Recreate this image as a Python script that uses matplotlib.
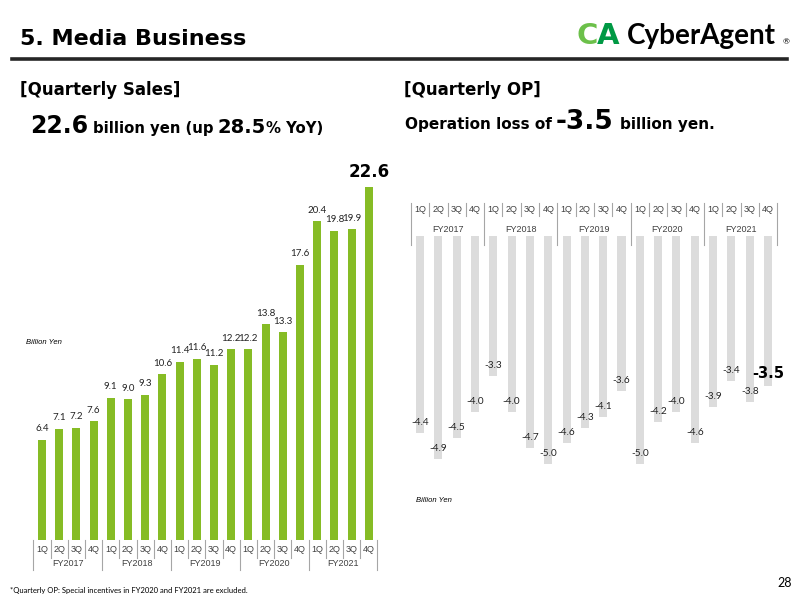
import matplotlib
matplotlib.use('Agg')
import matplotlib.pyplot as plt
from matplotlib.transforms import blended_transform_factory
from matplotlib.patches import Rectangle

# --- datos ---
years = ['FY2017', 'FY2018', 'FY2019', 'FY2020', 'FY2021']
quarters = ['1Q', '2Q', '3Q', '4Q']
sales = [6.4, 7.1, 7.2, 7.6, 9.1, 9.0, 9.3, 10.6, 11.4, 11.6, 11.2, 12.2,
         12.2, 13.8, 13.3, 17.6, 20.4, 19.8, 19.9, 22.6]
op = [-4.4, -4.9, -4.5, -4.0, -3.3, -4.0, -4.7, -5.0, -4.6, -4.3, -4.1, -3.6,
      -5.0, -4.2, -4.0, -4.6, -3.9, -3.4, -3.8, -3.5]

GREEN = '#86bc25'
GRAY = '#dcdcdc'
HEAD = 'DejaVu Sans'
plt.rcParams['font.family'] = ['Lato', 'DejaVu Sans']

fig = plt.figure(figsize=(8, 6), dpi=100)
W, H = 800, 600


def fx(px):
    return px / W


def fy(py):
    return 1 - py / H


def rich_text(x, y, parts, family=HEAD, weight='bold'):
    """parts: (texto, tamaño, espacio_px_despues, color)"""
    r = fig.canvas.get_renderer()
    for s, size, gap, col in parts:
        t = fig.text(fx(x), fy(y), s, fontsize=size, fontweight=weight, va='baseline',
                     color=col, family=family)
        x += t.get_window_extent(renderer=r).width + gap


def draw_table(ax, top, q_bottom, y_bottom, q_y, fy_y):
    tr = blended_transform_factory(ax.transData, fig.transFigure)
    for k in range(len(sales) + 1):
        bottom = y_bottom if k % 4 == 0 else q_bottom
        ax.plot([k - 0.5, k - 0.5], [fy(top), fy(bottom)], color='#a6a6a6', lw=0.8,
                transform=tr, clip_on=False, zorder=5)
    for i in range(len(sales)):
        ax.text(i, fy(q_y), quarters[i % 4], transform=tr, ha='center', va='center',
                fontsize=6.5, color='#404040', zorder=5, family='Liberation Sans')
    for j, yr in enumerate(years):
        ax.text(4 * j + 1.5, fy(fy_y), yr, transform=tr, ha='center', va='center',
                fontsize=6.5, color='#404040', zorder=5, family='Liberation Sans')


# --- encabezado ---
fig.text(fx(20), fy(45), '5. Media Business', fontsize=16, fontweight='bold', va='baseline',
         family=HEAD)
fig.add_artist(plt.Line2D([fx(12), fx(787)], [fy(59), fy(59)], color='#262626', lw=2.6))
rich_text(577, 44, [('C', 21, -2, '#6cc04a'), ('A', 21, 6, '#009944')], weight='heavy')
fig.text(fx(627), fy(44), 'CyberAgent', fontsize=20, fontweight='bold', va='baseline')
fig.text(fx(783), fy(44), '®', fontsize=6, va='baseline')

fig.text(fx(20), fy(95), '[Quarterly Sales]', fontsize=12, fontweight='bold', va='baseline',
         family=HEAD)
rich_text(30, 133, [('22.6', 17, 5, 'black'), ('billion yen (up', 10.7, 4, 'black'),
                    ('28.5', 14, 0, 'black'), ('% YoY)', 10.7, 0, 'black')])
fig.text(fx(404), fy(95), '[Quarterly OP]', fontsize=12, fontweight='bold', va='baseline',
         family=HEAD)
rich_text(405, 129, [('Operation loss of', 11, 4, 'black'), ('-3.5', 19, 6, 'black'),
                     ('billion yen.', 11, 0, 'black')])

# --- ventas trimestrales ---
ax1 = fig.add_axes([fx(33.4), fy(540), fx(344), 374.9 / H])
ax1.set_xlim(-0.5, 19.5)
ax1.set_ylim(0, 24)
ax1.axis('off')
ax1.bar(range(len(sales)), sales, width=0.47, color=GREEN)
for i, v in enumerate(sales):
    if i == len(sales) - 1:
        ax1.annotate(f'{v:.1f}', (i, v), xytext=(0, 11), textcoords='offset points',
                     ha='center', va='center', fontsize=12, fontweight='bold', family=HEAD)
    else:
        ax1.annotate(f'{v:.1f}', (i, v), xytext=(0, 8), textcoords='offset points',
                     ha='center', va='center', fontsize=7, color='#222222')
draw_table(ax1, 540, 558, 570, 549, 564)
fig.text(fx(26), fy(343), 'Billion Yen', fontsize=5.5, style='italic', va='center',
         family='Liberation Sans')

# --- resultado operativo trimestral ---
ax2 = fig.add_axes([fx(410.9), fy(490), fx(366.3), 286 / H])
ax2.set_xlim(-0.5, 19.5)
ax2.set_ylim(-5.5, 0)
ax2.axis('off')
ax2.bar(range(len(op)), op, width=0.44, color=GRAY, zorder=1)
tr2 = blended_transform_factory(ax2.transData, fig.transFigure)
ax2.add_patch(Rectangle((-0.5, fy(236)), 20, 33 / H, transform=tr2, facecolor='white',
                        edgecolor='none', zorder=3, clip_on=False))
for i, v in enumerate(op):
    if i == len(op) - 1:
        ax2.annotate(f'{v:.1f}', (i, v), xytext=(0, 9), textcoords='offset points',
                     ha='center', va='center', fontsize=10.5, fontweight='bold', zorder=6,
                     family=HEAD)
    else:
        ax2.annotate(f'{v:.1f}', (i, v), xytext=(0, 7.5), textcoords='offset points',
                     ha='center', va='center', fontsize=7.2, color='#222222', zorder=6)
draw_table(ax2, 203, 216, 245, 210, 230)
fig.text(fx(416), fy(500), 'Billion Yen', fontsize=5.5, style='italic', va='center',
         family='Liberation Sans')

# --- pie ---
fig.text(fx(10), fy(590), '*Quarterly OP: Special incentives in FY2020 and FY2021 are excluded.',
         fontsize=5.5, va='center')
fig.text(fx(792), fy(583), '28', fontsize=9, ha='right', va='center')

fig.savefig('out.png', dpi=100)
